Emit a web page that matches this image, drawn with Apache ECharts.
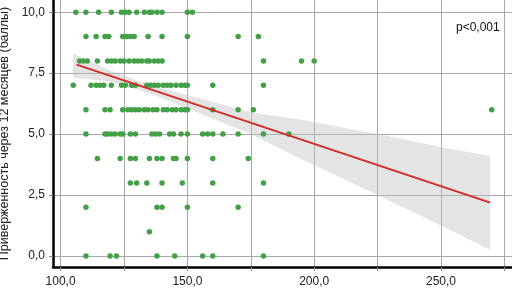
<!DOCTYPE html>
<html>
<head>
<meta charset="utf-8">
<script src="https://cdn.jsdelivr.net/npm/echarts@6/dist/echarts.min.js"></script>
<style>html,body{margin:0;padding:0;background:#fff}#c{width:512px;height:291px}</style>
</head>
<body>
<div id="c"></div>
<script>
// Scatter points: x values for each adherence score (y)
const score10 = [106, 110, 115, 120, 124, 125.5, 127, 130, 133, 135, 136, 138, 140, 150, 152];
const score9 = [110, 114, 117.5, 119, 124.5, 126, 127.5, 129, 134.5, 140, 150, 170, 178];
const score8 = [107.5, 109, 110.5, 114.5, 118.5, 120, 121.5, 123.5, 125, 127, 129, 130.5, 132, 134, 135, 137, 138.5, 140, 180, 195, 200];
const score7 = [105, 112, 114, 115.5, 117, 120, 124, 125.5, 128, 129.5, 134, 135.5, 137, 138.5, 140.5, 142, 143.5, 145.5, 147.5, 149, 150, 160, 180];
const score6 = [110, 117.5, 119.5, 124.5, 126.5, 128, 129.5, 131, 133, 134.5, 136.5, 138, 140.5, 142, 144, 145.5, 147.5, 149, 150, 160, 170, 176, 270];
const score5 = [110, 117.5, 118.5, 120, 121.5, 123.5, 124.5, 127.5, 129.5, 136, 137.5, 139, 143, 144.5, 147.5, 150, 156, 158, 160, 164, 170, 180, 190];
const score4 = [114.5, 123.5, 127.5, 129.5, 135, 138, 140, 144.5, 145.5, 150, 160, 174];
const score3 = [127.5, 130, 134, 140, 148, 160, 180];
const score2 = [110, 138, 140, 150, 170];
const score1 = [135];
const score0 = [110, 119.5, 122, 138, 145, 156, 160, 180];
const scoreRows = [[10, score10], [9, score9], [8, score8], [7, score7], [6, score6], [5, score5], [4, score4], [3, score3], [2, score2], [1, score1], [0, score0]];

// Regression line and confidence band
const fitX = [106.3, 269.4];
const fitY = [7.85, 2.19];
const bandX = [104.9, 120, 135, 150, 175, 194.4, 225, 251, 269.4];
const bandLow = [7.32, 7.15, 6.68, 6.05, 5.0, 4.0, 2.5, 1.2, 0.25];
const bandHigh = [8.31, 7.6, 7.0, 6.6, 5.9, 5.6, 5.0, 4.45, 4.1];

// Ticks
const xTicks = [100, 125, 150, 175, 200, 225, 250, 275];
const xLabels = [100, 150, 200, 250];
const yTicks = [0, 2.5, 5, 7.5, 10];

const points = [];
scoreRows.forEach(([y, xs]) => xs.forEach(x => points.push([x, y])));
const fitData = fitX.map((x, i) => [x, fitY[i]]);

const fmt = v => Number(v).toFixed(1).replace('.', ',');
const font = 'Liberation Sans, Arial, sans-serif';

const chart = echarts.init(document.getElementById('c'), null, {renderer: 'canvas'});
chart.setOption({
  animation: false,
  grid: {left: 53, right: 0, top: 0, bottom: 24, containLabel: false, outerBoundsMode: 'none'},
  xAxis: {
    type: 'value', min: 97, max: 278,
    axisLine: {show: true, onZero: false, lineStyle: {color: '#000', width: 2.5}},
    axisTick: {show: true, length: 4, customValues: xTicks, lineStyle: {color: '#888'}},
    axisLabel: {customValues: xLabels, formatter: fmt, color: '#222', fontSize: 12, fontFamily: font, margin: 9},
    splitLine: {show: true, lineStyle: {color: '#a8a8a8', width: 1}}
  },
  yAxis: {
    type: 'value', min: -0.45, max: 10.5,
    name: 'Приверженность через 12 месяцев (баллы)',
    nameLocation: 'middle', nameGap: 40, nameRotate: 90,
    nameTextStyle: {color: '#222', fontSize: 12.5, fontFamily: font},
    axisLine: {show: true, onZero: false, lineStyle: {color: '#000', width: 2.5}},
    axisTick: {show: true, length: 4, customValues: yTicks, lineStyle: {color: '#888'}},
    axisLabel: {customValues: yTicks, formatter: fmt, color: '#222', fontSize: 12, fontFamily: font, margin: 8},
    splitLine: {show: true, lineStyle: {color: '#a8a8a8', width: 1}}
  },
  graphic: [{type: 'text', left: 456, top: 22, style: {text: 'p<0,001', fill: '#111', font: '12px ' + font}}],
  series: [
    {
      type: 'custom', z: 1, silent: true,
      data: [[bandX[0], bandLow[0]]],
      renderItem: (params, api) => {
        const pts = [];
        bandX.forEach((x, i) => pts.push(api.coord([x, bandHigh[i]])));
        for (let i = bandX.length - 1; i >= 0; i--) pts.push(api.coord([bandX[i], bandLow[i]]));
        return {type: 'polygon', shape: {points: pts}, style: {fill: 'rgba(190,190,190,0.42)'}};
      }
    },
    {
      type: 'scatter', z: 2, data: points, symbolSize: 5.5,
      itemStyle: {color: '#43a047', opacity: 1}
    },
    {
      type: 'line', z: 3, data: fitData, symbol: 'none',
      lineStyle: {color: '#d42a2a', width: 2}
    }
  ]
});
</script>
</body>
</html>
